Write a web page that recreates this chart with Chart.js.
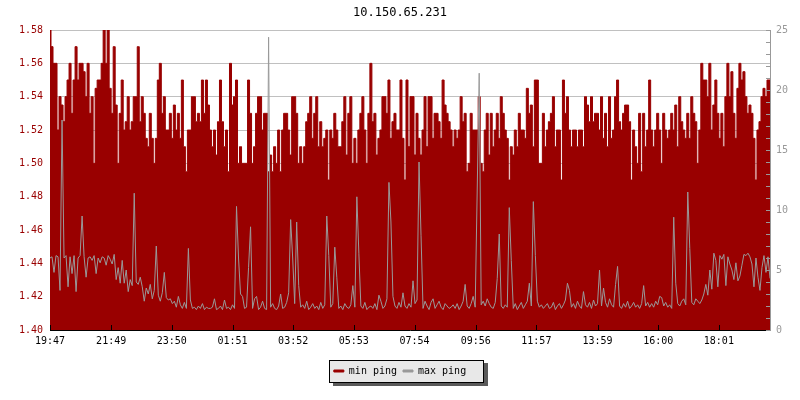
<!DOCTYPE html>
<html>
<head>
<meta charset="utf-8">
<script src="https://cdn.jsdelivr.net/npm/chart.js@4.4.1/dist/chart.umd.min.js"></script>
<style>
  html, body { margin: 0; padding: 0; background: #fff; }
</style>
</head>
<body>
<canvas id="chart" width="800" height="400"></canvas>
<script>
const chartTitle = '10.150.65.231';
const seriesNames = ['min ping', 'max ping'];
const sampleStep = 4; // minutes between samples

const tickLabels = ['19:47', '21:49', '23:50', '01:51', '03:52', '05:53',
  '07:54', '09:56', '11:57', '13:59', '16:00', '18:01'];
const tickMinutes = [0, 122, 243, 364, 485, 606, 727, 849, 970, 1092, 1213, 1334];

// left axis (ms)
const minPing = [
  1.58, 1.57, 1.56, 1.56, 1.52, 1.54, 1.535, 1.525, 1.54, 1.55, 1.56, 1.53, 1.55, 1.57, 1.55, 1.56, 1.56, 1.555, 1.54, 1.56,
  1.53, 1.54, 1.50, 1.545, 1.55, 1.55, 1.56, 1.58, 1.56, 1.58, 1.545, 1.53, 1.57, 1.535, 1.50, 1.53, 1.55, 1.52, 1.525, 1.54,
  1.52, 1.525, 1.54, 1.54, 1.57, 1.525, 1.54, 1.53, 1.515, 1.51, 1.53, 1.515, 1.50, 1.515, 1.55, 1.56, 1.53, 1.54, 1.52, 1.52,
  1.53, 1.515, 1.535, 1.52, 1.53, 1.515, 1.55, 1.51, 1.495, 1.52, 1.52, 1.54,
  1.54, 1.525, 1.53, 1.525, 1.55, 1.53, 1.55, 1.535, 1.52, 1.51, 1.52, 1.505, 1.525, 1.55, 1.525, 1.51, 1.52, 1.495, 1.56, 1.535,
  1.54, 1.55, 1.50, 1.51, 1.50, 1.50, 1.50, 1.55, 1.53, 1.50, 1.51, 1.53, 1.54, 1.54, 1.52, 1.53, 1.53, 1.495, 1.505, 1.495,
  1.51, 1.50, 1.52, 1.495, 1.52, 1.53, 1.53, 1.52, 1.505, 1.54, 1.54, 1.53, 1.50, 1.51, 1.50, 1.51, 1.525, 1.53, 1.54, 1.515,
  1.53, 1.54, 1.51, 1.525, 1.51, 1.515, 1.52, 1.49, 1.52, 1.515, 1.53, 1.52,
  1.51, 1.51, 1.525, 1.54, 1.505, 1.53, 1.54, 1.50, 1.515, 1.50, 1.52, 1.53, 1.54, 1.52, 1.50, 1.53, 1.56, 1.525, 1.53, 1.505,
  1.515, 1.52, 1.54, 1.54, 1.53, 1.55, 1.515, 1.525, 1.53, 1.52, 1.52, 1.55, 1.515, 1.49, 1.55, 1.51, 1.54, 1.54, 1.505, 1.53,
  1.515, 1.505, 1.52, 1.54, 1.51, 1.54, 1.54, 1.515, 1.53, 1.53, 1.525, 1.515, 1.55, 1.535, 1.53, 1.525, 1.52, 1.51, 1.52, 1.515,
  1.52, 1.54, 1.525, 1.53, 1.495, 1.50, 1.53, 1.52, 1.52, 1.52, 1.54, 1.50,
  1.495, 1.52, 1.53, 1.505, 1.53, 1.51, 1.52, 1.53, 1.515, 1.54, 1.53, 1.52, 1.515, 1.49, 1.51, 1.505, 1.52, 1.51, 1.53, 1.52,
  1.52, 1.515, 1.545, 1.53, 1.535, 1.51, 1.55, 1.55, 1.50, 1.50, 1.53, 1.51, 1.52, 1.525, 1.53, 1.54, 1.51, 1.52, 1.52, 1.49,
  1.55, 1.53, 1.54, 1.52, 1.51, 1.52, 1.52, 1.51, 1.52, 1.52, 1.51, 1.54, 1.535, 1.525, 1.54, 1.525, 1.53, 1.53, 1.52, 1.54,
  1.515, 1.53, 1.51, 1.54, 1.515, 1.52, 1.54, 1.55, 1.525, 1.52, 1.53, 1.535,
  1.535, 1.525, 1.49, 1.52, 1.51, 1.50, 1.53, 1.495, 1.53, 1.51, 1.52, 1.55, 1.52, 1.51, 1.52, 1.53, 1.52, 1.50, 1.53, 1.52,
  1.515, 1.52, 1.53, 1.52, 1.535, 1.51, 1.54, 1.525, 1.52, 1.515, 1.53, 1.515, 1.54, 1.53, 1.525, 1.50, 1.52, 1.56, 1.55, 1.55,
  1.54, 1.56, 1.52, 1.535, 1.55, 1.53, 1.515, 1.53, 1.51, 1.54, 1.56, 1.54, 1.555, 1.53, 1.515, 1.545, 1.56, 1.55, 1.555, 1.54,
  1.53, 1.535, 1.53, 1.515, 1.49, 1.52, 1.525, 1.54, 1.545, 1.54, 1.55, 1.55
];

// right axis
const maxPing = [
  6.0, 6.1, 4.8, 6.2, 6.1, 3.3, 17.5, 6.0, 6.2, 3.6, 6.1, 4.7, 6.2, 3.2, 6.0, 6.2, 9.5, 6.1, 4.4, 6.0,
  6.1, 5.8, 6.2, 4.7, 6.0, 5.6, 6.1, 6.0, 5.4, 6.2, 5.9, 5.5, 6.3, 4.2, 5.2, 3.9, 5.8, 3.9, 5.0, 3.2,
  4.2, 3.7, 11.4, 4.0, 3.8, 4.4, 3.6, 2.4, 3.5, 3.0, 3.8, 2.6, 3.3, 7.0, 2.9, 2.4, 3.1, 4.8, 2.7, 2.5,
  2.6, 2.2, 2.4, 1.9, 2.8, 2.1, 1.8, 2.3, 1.8, 6.8, 2.5, 1.8, 1.9, 1.7, 2.0, 1.8, 2.2, 1.7, 1.9, 1.8,
  1.8, 1.9, 2.6, 1.7, 1.8, 2.0, 1.7, 2.5, 1.8, 1.9, 1.7, 2.1, 1.8, 10.3, 6.0, 3.0, 2.8, 1.8, 1.9, 5.2,
  8.6, 1.8, 2.6, 2.8, 1.7, 1.9, 2.4, 1.8, 1.7, 24.4, 1.9, 2.2, 1.8, 1.7, 2.0, 3.0, 1.8, 1.9, 2.3, 3.1,
  9.2, 6.0, 2.2, 9.0, 3.7, 1.9, 2.1, 1.8, 2.4, 1.7, 1.9, 2.2, 1.8, 2.0, 1.7, 2.3, 1.8, 2.1, 9.5, 6.2,
  1.9, 2.2, 6.9, 4.4, 1.8, 2.0, 1.7, 2.2, 1.9, 1.8, 2.1, 3.7, 1.9, 11.1, 6.4, 2.0, 1.8, 2.3, 1.7, 1.9,
  2.0, 1.8, 2.2, 1.7, 2.9, 2.4, 1.8, 2.0, 2.6, 12.3, 9.0, 2.8, 2.0, 1.8, 2.3, 1.9, 3.1, 2.0, 1.8, 2.2,
  1.9, 4.1, 2.2, 2.5, 14.0, 7.9, 1.8, 2.4, 2.0, 1.7, 2.3, 2.6, 1.8, 2.1, 2.4, 1.9, 1.7, 2.2, 2.0, 1.8,
  1.9, 2.1, 1.8, 2.2, 1.7, 2.0, 2.4, 3.8, 2.0, 1.8, 2.2, 2.8, 1.9, 11.5, 21.4, 2.1, 2.4, 2.0, 2.6, 2.2,
  1.9, 1.8, 2.3, 4.3, 8.0, 2.0, 1.8, 2.1, 1.9, 10.2, 5.8, 1.8, 2.2, 1.7, 2.0, 2.3, 1.8, 2.1, 2.4, 3.9,
  2.0, 10.7, 6.2, 2.4, 1.9, 2.1, 1.8, 2.0, 2.2, 1.8, 1.9, 2.3, 1.7, 2.0, 2.2, 1.8, 2.1, 2.5, 3.9, 3.3,
  1.9, 2.2, 1.8, 2.4, 2.0, 1.8, 3.2, 2.1, 1.9, 2.3, 1.8, 2.5, 2.0, 2.2, 5.0, 2.0, 3.5, 2.3, 1.9, 2.6,
  2.1, 1.9, 3.8, 5.3, 2.0, 1.8, 2.2, 1.9, 2.4, 1.8, 2.0, 2.3, 1.9, 2.1, 1.8, 2.2, 3.7, 2.0, 2.3, 1.9,
  2.2, 1.9, 2.4, 2.1, 2.8, 2.7, 2.0, 2.3, 1.9, 2.1, 1.8, 9.4, 3.9, 2.2, 2.0, 2.4, 2.6, 2.1, 11.5, 6.8,
  2.3, 2.1, 2.6, 2.4, 2.2, 2.5, 3.0, 3.8, 2.9, 5.0, 3.4, 6.4, 5.8, 3.6, 6.2, 5.9, 6.3, 3.7, 6.1, 5.5,
  5.0, 4.2, 5.6, 4.1, 4.5, 5.4, 6.3, 6.2, 6.4, 6.1, 5.5, 3.6, 6.0, 4.4, 3.3, 5.2, 6.2, 4.8, 6.1, 4.3
];

const FONT = "'DejaVu Sans Mono', monospace";
const RED = '#990000';
const GREY = '#999999';

const toPoints = (arr) => arr.map((v, i) => ({ x: i * sampleStep, y: v }));

// small tick marks pointing into the plot
const innerTicks = {
  id: 'innerTicks',
  afterDatasetsDraw(chart) {
    const { ctx, chartArea: a, scales } = chart;
    ctx.save();
    ctx.lineWidth = 1;
    ctx.strokeStyle = '#000';
    ctx.beginPath();
    tickMinutes.forEach((m) => {
      const px = Math.round(scales.x.getPixelForValue(m)) + 0.5;
      ctx.moveTo(px, a.bottom);
      ctx.lineTo(px, a.bottom - 5);
    });
    ctx.stroke();
    ctx.strokeStyle = GREY;
    ctx.beginPath();
    for (let v = 0; v <= 25; v++) {
      const py = Math.round(scales.y1.getPixelForValue(v)) + 0.5;
      ctx.moveTo(a.right - 4, py);
      ctx.lineTo(a.right, py);
    }
    ctx.stroke();
    ctx.restore();
  }
};

// grey box with shadow behind the legend
const legendBox = {
  id: 'legendBox',
  beforeDraw(chart) {
    const hb = chart.legend && chart.legend.legendHitBoxes;
    if (!hb || !hb.length) return;
    const { ctx } = chart;
    const last = hb[hb.length - 1];
    const l = Math.round(hb[0].left) - 5;
    const r = Math.round(last.left + last.width) + 18;
    const t = Math.round(hb[0].top) - 6;
    const b = Math.round(hb[0].top + hb[0].height) + 7;
    ctx.save();
    ctx.fillStyle = '#5a5a5a';
    ctx.fillRect(l + 4, t + 3, r - l, b - t);
    ctx.fillStyle = '#e8e8e8';
    ctx.fillRect(l, t, r - l, b - t);
    ctx.strokeStyle = '#000';
    ctx.lineWidth = 1;
    ctx.strokeRect(l + 0.5, t + 0.5, r - l - 1, b - t - 1);
    ctx.restore();
  }
};

new Chart(document.getElementById('chart').getContext('2d'), {
  type: 'line',
  data: {
    datasets: [
      {
        label: seriesNames[0],
        data: toPoints(minPing),
        yAxisID: 'y',
        borderColor: RED,
        backgroundColor: RED,
        borderWidth: 1,
        fill: 'start',
        stepped: 'middle',
        pointRadius: 0,
        order: 2
      },
      {
        label: seriesNames[1],
        data: toPoints(maxPing),
        yAxisID: 'y1',
        borderColor: GREY,
        backgroundColor: GREY,
        borderWidth: 1,
        fill: false,
        tension: 0,
        pointRadius: 0,
        order: 1
      }
    ]
  },
  options: {
    responsive: false,
    animation: false,
    layout: { padding: { top: 0, bottom: 14, left: 0, right: 0 } },
    plugins: {
      title: {
        display: true,
        text: chartTitle,
        color: '#000',
        font: { family: FONT, size: 12, weight: 'normal' },
        padding: { top: 6, bottom: 9.6 }
      },
      legend: {
        position: 'bottom',
        labels: {
          sort: (a, b) => a.datasetIndex - b.datasetIndex,
          color: '#000',
          font: { family: FONT, size: 10 },
          boxWidth: 10,
          boxHeight: 2,
          padding: 6
        }
      },
      tooltip: { enabled: false }
    },
    scales: {
      x: {
        type: 'linear',
        min: 0,
        max: (minPing.length - 1) * sampleStep,
        afterBuildTicks: (s) => { s.ticks = tickMinutes.map((v) => ({ value: v })); },
        afterFit: (s) => { s.height = 30; },
        ticks: {
          autoSkip: false,
          maxRotation: 0,
          padding: 5,
          color: '#000',
          font: { family: FONT, size: 10 },
          callback: (v) => tickLabels[tickMinutes.indexOf(v)]
        },
        grid: { display: true, drawOnChartArea: false, drawTicks: false },
        border: { color: '#000' }
      },
      y: {
        position: 'left',
        min: 1.40,
        max: 1.58,
        afterFit: (s) => { s.width = 50; },
        ticks: {
          stepSize: 0.02,
          padding: 7,
          color: RED,
          font: { family: FONT, size: 10 },
          callback: (v) => Number(v).toFixed(2)
        },
        grid: { color: '#c0c0c0', drawTicks: false },
        border: { display: false }
      },
      y1: {
        position: 'right',
        min: 0,
        max: 25,
        afterFit: (s) => { s.width = 30; },
        ticks: {
          stepSize: 5,
          padding: 6,
          color: GREY,
          font: { family: FONT, size: 10 }
        },
        grid: { drawOnChartArea: false, drawTicks: false },
        border: { color: GREY }
      }
    }
  },
  plugins: [legendBox, innerTicks]
});
</script>
</body>
</html>
